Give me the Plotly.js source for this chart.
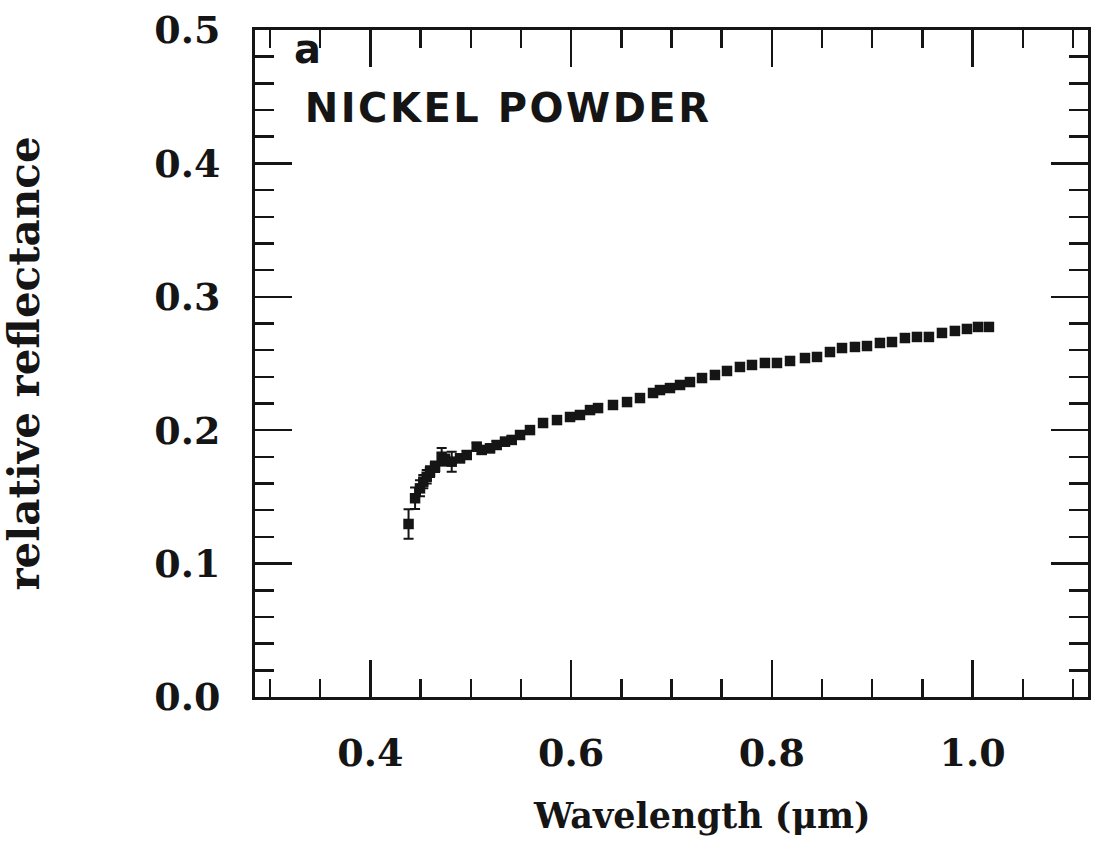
<!DOCTYPE html>
<html>
<head>
<meta charset="utf-8">
<script src="https://cdn.plot.ly/plotly-3.0.1.min.js"></script>
<style>
html,body{margin:0;padding:0;background:#fff;}
#chart{width:1100px;height:856px;}
</style>
</head>
<body>
<div id="chart"></div>
<script>
// Wavelength (micrometres)
const wavelength = [
  0.438, 0.4445, 0.4494, 0.4527, 0.4561, 0.4594, 0.4644, 0.4710, 0.4743, 0.4810,
  0.4893, 0.4960, 0.5059, 0.5109, 0.5192, 0.5258, 0.5341, 0.5408, 0.5491,
  0.5590, 0.5720, 0.5859, 0.5989, 0.6088, 0.6188, 0.6268, 0.6417, 0.6557, 0.6686, 0.6816,
  0.6885, 0.6985, 0.7085, 0.7184, 0.7304, 0.7433, 0.7553, 0.7682, 0.7802, 0.7931, 0.8051, 0.8181,
  0.8330, 0.8450, 0.8579, 0.8699, 0.8828, 0.8948, 0.9077, 0.9197, 0.9326, 0.9446, 0.9565,
  0.9695, 0.9824, 0.9944, 1.0054, 1.0163
];
// Relative reflectance
const reflectance = [
  0.1297, 0.1490, 0.1564, 0.1614, 0.1651, 0.1689, 0.1726, 0.1801, 0.1777, 0.1764,
  0.1789, 0.1814, 0.1876, 0.1852, 0.1864, 0.1889, 0.1914, 0.1927, 0.1964,
  0.2001, 0.2054, 0.2076, 0.2099, 0.2114, 0.2151, 0.2166, 0.2189, 0.2211, 0.2241, 0.2279,
  0.2301, 0.2316, 0.2339, 0.2361, 0.2391, 0.2414, 0.2444, 0.2474, 0.2489, 0.2504, 0.2504, 0.2519,
  0.2541, 0.2549, 0.2586, 0.2616, 0.2624, 0.2631, 0.2654, 0.2661, 0.2691, 0.2699, 0.2699,
  0.2729, 0.2744, 0.2759, 0.2774, 0.2774
];
// Error (1 sigma)
const errors = [
  0.011, 0.008, 0.006, 0.005, 0.005, 0.004, 0.004, 0.0065, 0.004, 0.0075,
  0.003, 0.003, 0.003, 0.003, 0.003, 0.003, 0.003, 0.003, 0.003,
  0.003, 0.003, 0.003, 0.003, 0.003, 0.003, 0.003, 0.003, 0.003, 0.003, 0.003,
  0.003, 0.003, 0.003, 0.003, 0.003, 0.003, 0.003, 0.003, 0.003, 0.003, 0.003, 0.003,
  0.003, 0.003, 0.003, 0.003, 0.003, 0.003, 0.003, 0.003, 0.003, 0.003, 0.003,
  0.003, 0.003, 0.003, 0.003, 0.003
];
const xTickVals = [0.4, 0.6, 0.8, 1.0];
const xTickText = ["0.4", "0.6", "0.8", "1.0"];
const yTickVals = [0, 0.1, 0.2, 0.3, 0.4, 0.5];
const yTickText = ["0.0", "0.1", "0.2", "0.3", "0.4", "0.5"];
const panelLabel = "a";
const sampleName = "NICKEL POWDER";
const xTitle = "Wavelength (\u03bcm)";
const yTitle = "relative reflectance";

const ink = "#151515";
const serif = "'DejaVu Serif', 'Liberation Serif', serif";
const sans = "'DejaVu Sans', 'Liberation Sans', Arial, sans-serif";

const trace = {
  x: wavelength,
  y: reflectance,
  type: "scatter",
  mode: "markers",
  marker: {symbol: "square", size: 10.5, color: ink},
  error_y: {type: "data", array: errors, visible: true, color: ink, thickness: 2, width: 5},
  showlegend: false,
  hoverinfo: "x+y"
};

const axisCommon = {
  showline: true,
  linewidth: 3,
  linecolor: ink,
  mirror: "ticks",
  ticks: "inside",
  ticklen: 37,
  tickwidth: 2.5,
  tickcolor: ink,
  showgrid: false,
  zeroline: false,
  tickfont: {family: serif, size: 38, color: ink, weight: "bold"},
};

const layout = {
  width: 1100,
  height: 856,
  margin: {l: 255, r: 12, t: 30, b: 159},
  paper_bgcolor: "#fff",
  plot_bgcolor: "#fff",
  xaxis: Object.assign({}, axisCommon, {
    range: [0.285, 1.115],
    tickvals: xTickVals,
    ticktext: xTickText,
    minor: {dtick: 0.05, tick0: 0, ticks: "inside", ticklen: 18, tickwidth: 2.5, tickcolor: ink, showgrid: false},
    ticklabelstandoff: 20
  }),
  yaxis: Object.assign({}, axisCommon, {
    range: [0, 0.5],
    tickvals: yTickVals,
    ticktext: yTickText,
    minor: {dtick: 0.02, tick0: 0, ticks: "inside", ticklen: 19, tickwidth: 2.5, tickcolor: ink, showgrid: false},
    ticklabelstandoff: 24,
    title: {text: yTitle, font: {family: serif, size: 42, color: ink, weight: "bold"}, standoff: 103}
  }),
  annotations: [
    {xref: "paper", yref: "paper", x: 0.045, y: 1.0, yshift: 6, xanchor: "left", yanchor: "top", showarrow: false,
     text: panelLabel, font: {family: sans, size: 40, color: ink, weight: "bold"}},
    {xref: "paper", yref: "paper", x: 0.3043, y: 0.883, xanchor: "center", yanchor: "middle", showarrow: false,
     text: sampleName, font: {family: sans, size: 40, color: ink, weight: "bold"}},
    {xref: "paper", yref: "paper", x: 0.537, y: -0.177, xanchor: "center", yanchor: "middle", showarrow: false,
     text: xTitle, font: {family: serif, size: 35, color: ink, weight: "bold"}}
  ]
};

Plotly.newPlot("chart", [trace], layout, {displayModeBar: false, staticPlot: true}).then(function () {
  // Wide letter spacing on the sample name, as in the original print
  document.querySelectorAll(".annotation-text").forEach(function (t) {
    if (t.textContent === sampleName) t.style.letterSpacing = "2.5px";
  });
});
</script>
</body>
</html>
